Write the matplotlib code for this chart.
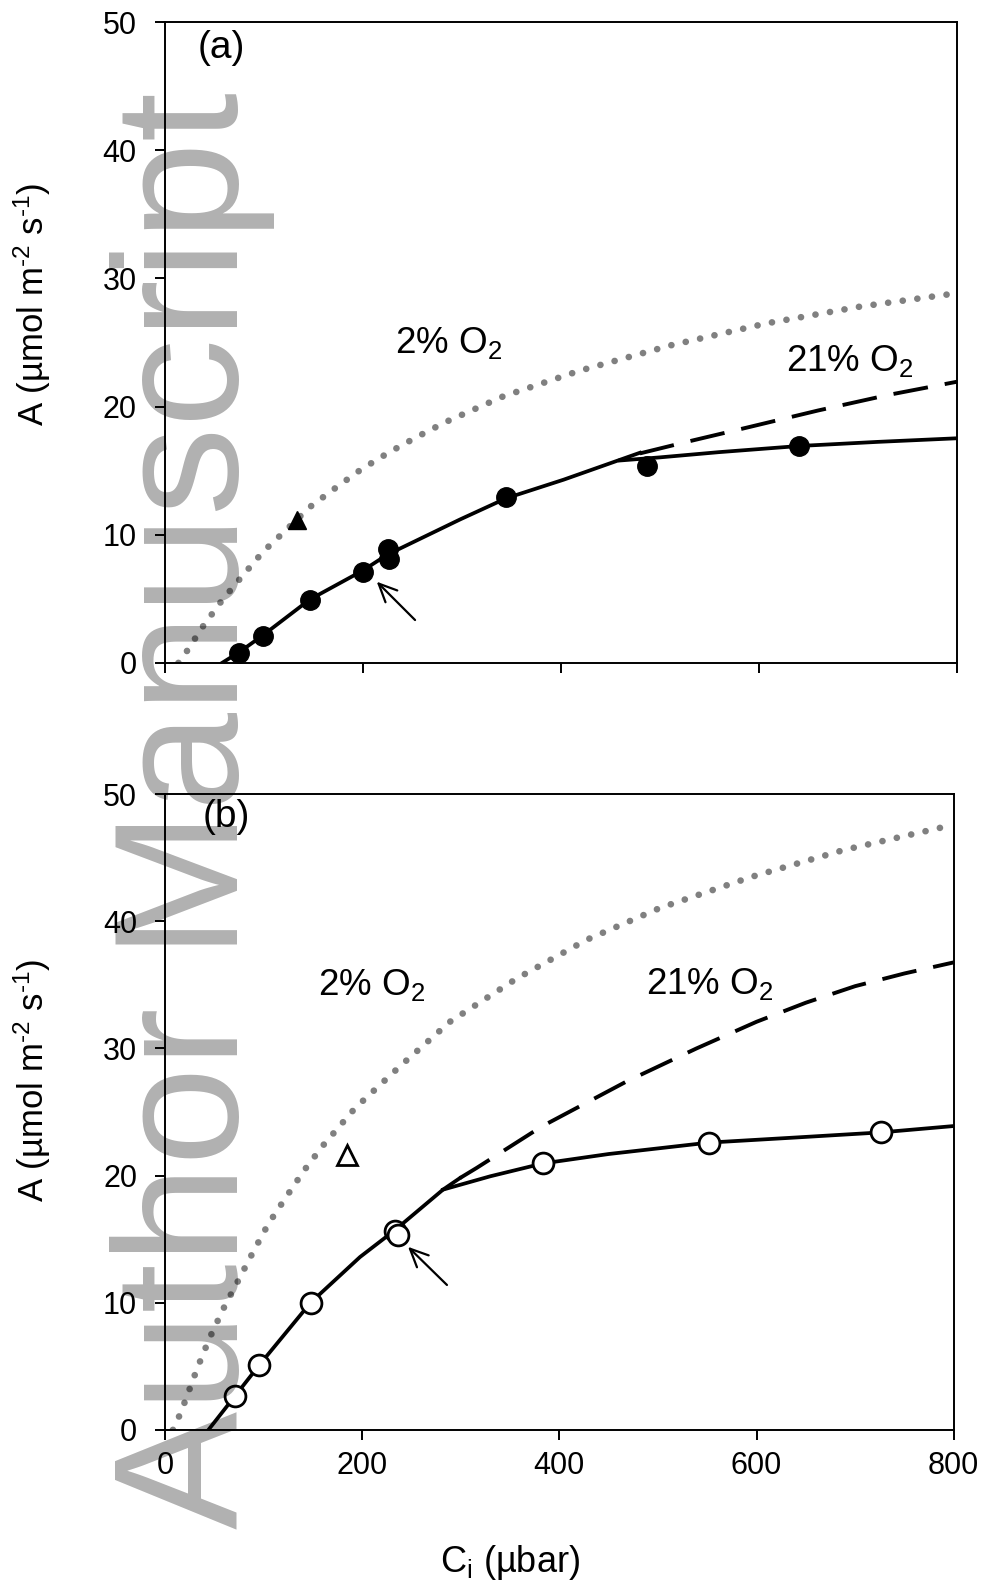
import matplotlib
matplotlib.use('Agg')
import matplotlib.pyplot as plt

plt.rcParams['font.family'] = ['Liberation Sans', 'DejaVu Sans']
plt.rcParams['mathtext.fontset'] = 'custom'
plt.rcParams['mathtext.rm'] = 'Liberation Sans'
plt.rcParams['mathtext.it'] = 'Liberation Sans:italic'
plt.rcParams['mathtext.bf'] = 'Liberation Sans:bold'

# ---- panel (a) ----
a_ci_meas = [75.6, 99.2, 146.7, 200.2, 225.4, 226.8, 344.5, 487, 641]
a_A_meas = [0.80, 2.1, 4.91, 7.07, 8.89, 8.11, 12.93, 15.37, 16.93]
a_ci_tri = [133.5]
a_A_tri = [11.15]
a_ci_wc = [58, 75.6, 99.2, 146.7, 200, 225, 298.5, 345, 403, 480]
a_A_wc = [0, 0.85, 2.15, 4.95, 7.2, 8.45, 11.2, 12.85, 14.3, 16.4]
a_ci_wj = [460, 500, 560, 641, 720, 800]
a_A_wj = [15.8, 16.04, 16.45, 16.93, 17.25, 17.53]
a_ci_dash = [480, 530, 590, 660, 730, 800]
a_A_dash = [16.35, 17.3, 18.4, 19.7, 20.9, 21.94]
a_ci_o2 = [14, 20.7, 38.6, 57.8, 78.6, 99.5, 122.7, 146.3, 172.2, 198.5, 226,
           254, 283.3, 342, 419, 512, 608, 702, 800]
a_A_o2 = [0, 0.7, 2.83, 4.86, 6.79, 8.68, 10.37, 12.14, 13.63, 15.1, 16.4,
          17.6, 18.78, 20.8, 22.8, 24.8, 26.5, 27.8, 28.85]

# ---- panel (b) ----
b_ci_meas = [71, 95.7, 147.8, 233.3, 236.6, 383.4, 552, 726]
b_A_meas = [2.67, 5.11, 10.02, 15.66, 15.34, 20.96, 22.6, 23.4]
b_ci_tri = [184.3]
b_A_tri = [21.6]
b_ci_wc = [44, 71, 95.7, 147.8, 197.8, 233, 282, 299]
b_A_wc = [0, 2.67, 5.11, 10.02, 13.6, 15.7, 18.9, 19.8]
b_ci_wj = [282, 330, 383.4, 450, 552, 640, 726, 800]
b_A_wj = [18.9, 19.95, 20.96, 21.7, 22.6, 23.0, 23.4, 23.9]
b_ci_dash = [299, 316, 382, 468, 539, 600, 650, 700, 750, 800]
b_A_dash = [19.8, 20.6, 23.86, 27.4, 30.0, 32.1, 33.6, 34.9, 35.9, 36.77]
b_ci_o2 = [8, 16, 22, 33.1, 45.6, 59.1, 74.3, 89.6, 104.8, 122.7, 141, 160.6,
           192.7, 238.3, 289, 356.7, 427.7, 502, 595, 688, 800]
b_A_o2 = [0, 1.36, 2.6, 4.93, 7.29, 9.52, 11.75, 14.03, 16.2, 18.3, 20.4, 22.4,
          25.3, 28.6, 32.1, 35.5, 38.55, 41.05, 43.5, 45.6, 47.6]

x_ticks = [0, 200, 400, 600, 800]
y_ticks = [0, 10, 20, 30, 40, 50]

fig = plt.figure(figsize=(9.84, 15.83), dpi=100)
ax_a = fig.add_axes([0.1672, 0.5812, 0.8051, 0.4048])
ax_b = fig.add_axes([0.1677, 0.0967, 0.8015, 0.4016])

dot_style = dict(color='#808080', lw=4.8, linestyle=(0, (0.01, 2.2)),
                 dash_capstyle='round', solid_capstyle='round')
dash_style = dict(color='black', lw=2.8, linestyle=(0, (9, 4.4)))
solid_style = dict(color='black', lw=2.7)


def style(ax, show_xlabels):
    ax.set_xlim(0, 800)
    ax.set_ylim(0, 50)
    ax.set_xticks(x_ticks)
    ax.set_yticks(y_ticks)
    for s in ax.spines.values():
        s.set_linewidth(1.4)
    ax.tick_params(direction='out', length=7, width=1.4, labelsize=22)
    ax.tick_params(axis='y', pad=13)
    ax.tick_params(axis='x', pad=8, labelbottom=show_xlabels)


def arrow(ax, head, tail):
    ax.annotate('', xy=head, xytext=tail,
                arrowprops=dict(arrowstyle='->,head_length=1.3,head_width=0.6',
                                lw=1.6, color='black', shrinkA=0, shrinkB=0))


# panel (a)
ax_a.plot(a_ci_o2, a_A_o2, **dot_style)
ax_a.plot(a_ci_dash, a_A_dash, **dash_style)
ax_a.plot(a_ci_wc, a_A_wc, **solid_style)
ax_a.plot(a_ci_wj, a_A_wj, **solid_style)
ax_a.plot(a_ci_meas, a_A_meas, 'o', color='black', ms=14, zorder=5)
ax_a.plot(a_ci_tri, a_A_tri, '^', color='black', ms=13, zorder=5)
arrow(ax_a, (214.3, 6.34), (253, 3.35))
ax_a.text(57, 48.0, '(a)', fontsize=28, ha='center', va='center')
ax_a.text(287, 25.0, '2% O$_2$', fontsize=26.5, ha='center', va='center')
ax_a.text(692, 23.6, '21% O$_2$', fontsize=26.5, ha='center', va='center')
style(ax_a, False)

# panel (b)
ax_b.plot(b_ci_o2, b_A_o2, **dot_style)
ax_b.plot(b_ci_dash, b_A_dash, **dash_style)
ax_b.plot(b_ci_wc, b_A_wc, **solid_style)
ax_b.plot(b_ci_wj, b_A_wj, **solid_style)
ax_b.plot(b_ci_meas, b_A_meas, 'o', mfc='white', mec='black', mew=2.0,
          ms=15, zorder=5)
ax_b.plot(b_ci_tri, b_A_tri, '^', mfc='white', mec='black', mew=2.0,
          ms=14, zorder=5)
arrow(ax_b, (246.5, 14.4), (286, 11.4))
ax_b.text(62, 48.2, '(b)', fontsize=28, ha='center', va='center')
ax_b.text(210, 35.0, '2% O$_2$', fontsize=26.5, ha='center', va='center')
ax_b.text(553, 35.1, '21% O$_2$', fontsize=26.5, ha='center', va='center')
style(ax_b, True)

ylab = 'A (µmol m$^{\\text{-2}}$ s$^{\\text{-1}}$)'
fig.text(32 / 984, 1 - 304 / 1583, ylab, rotation=90, fontsize=25,
         ha='center', va='center')
fig.text(32 / 984, 1 - 1080 / 1583, ylab, rotation=90, fontsize=25,
         ha='center', va='center')
fig.text(510 / 984, 1 - 1562 / 1583, 'C$_{\\mathrm{i}}$ (µbar)', fontsize=26,
         ha='center', va='center')

# watermark
fig.text(238 / 984, 1 - 1529 / 1583, 'Author Manuscript', rotation=90,
         rotation_mode='anchor', ha='left', va='baseline', fontsize=127.5,
         color='black', alpha=0.31, zorder=100)

fig.savefig('out.png', dpi=100)
